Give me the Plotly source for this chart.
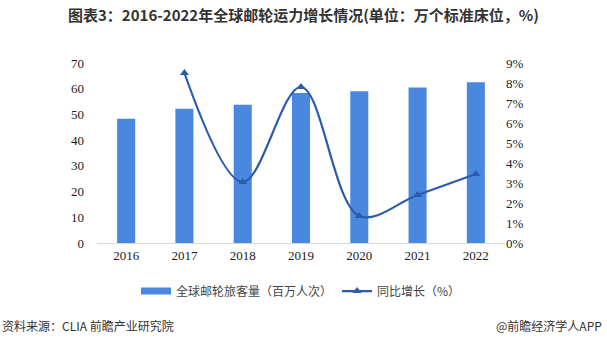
import plotly.graph_objects as go

years = ["2016", "2017", "2018", "2019", "2020", "2021", "2022"]
capacity = [48.3, 52.2, 53.8, 58.3, 59.0, 60.5, 62.5]
growth_years = ["2017", "2018", "2019", "2020", "2021", "2022"]
growth_pct = [8.5, 3.05, 7.8, 1.35, 2.4, 3.45]

bar_name = "全球邮轮旅客量（百万人次）"
line_name = "同比增长（%）"
title_text = "图表3：2016-2022年全球邮轮运力增长情况(单位：万个标准床位，%)"
source_text = "资料来源：CLIA 前瞻产业研究院"
brand_text = "@前瞻经济学人APP"

serif = "Liberation Serif, Times New Roman, serif"
sans = "Noto Sans CJK SC, sans-serif"
bar_color = "#4a88e0"
line_color = "#2b5cab"

fig = go.Figure()
fig.add_trace(go.Bar(
    x=years, y=capacity, name=bar_name,
    marker=dict(color=bar_color, line=dict(width=0)),
    yaxis="y", showlegend=False,
))
# legend key for the bars drawn as a wide flat swatch
fig.add_trace(go.Scatter(
    x=[None], y=[None], name=bar_name, mode="lines",
    line=dict(color=bar_color, width=7), yaxis="y",
))
fig.add_trace(go.Scatter(
    x=growth_years, y=[v / 100 for v in growth_pct], name=line_name,
    mode="lines+markers",
    line=dict(color=line_color, width=2.2, shape="spline", smoothing=1.0),
    marker=dict(symbol="triangle-up", size=8, color=line_color),
    yaxis="y2",
))

fig.update_layout(
    width=607, height=346,
    margin=dict(l=97, r=102, t=63, b=103),
    paper_bgcolor="white", plot_bgcolor="white",
    bargap=0.69,
    showlegend=True,
    legend=dict(
        orientation="h", x=0.5, xanchor="center", y=-0.267, yanchor="middle",
        font=dict(family=sans, size=12, color="#444"),
        itemwidth=30, tracegroupgap=0,
    ),
    xaxis=dict(
        type="category",
        showline=True, linecolor="#d9d9d9", linewidth=1,
        ticks="", showgrid=False,
        tickfont=dict(family=serif, size=13, color="#222"),
    ),
    yaxis=dict(
        range=[0, 70], dtick=10, showgrid=False, zeroline=False,
        tickfont=dict(family=serif, size=13, color="#222"),
        ticks="", showline=False, ticklabelstandoff=12,
    ),
    yaxis2=dict(
        overlaying="y", side="right",
        range=[0, 0.09], dtick=0.01, tickformat=".0%",
        showgrid=False, zeroline=False, ticks="", showline=False,
        tickfont=dict(family=serif, size=13, color="#222"),
    ),
    title=dict(
        text="<b>" + title_text + "</b>",
        x=0.5, xanchor="center", y=0.955, yanchor="middle",
        font=dict(family=sans, size=15, color="#333"),
    ),
    annotations=[
        dict(text=source_text, xref="paper", yref="paper",
             x=-97 / 408, y=-82 / 180, xanchor="left", yanchor="middle",
             showarrow=False, font=dict(family=sans, size=12, color="#333")),
        dict(text=brand_text, xref="paper", yref="paper",
             x=(604 - 97) / 408, y=-82 / 180, xanchor="right", yanchor="middle",
             showarrow=False, font=dict(family=sans, size=12, color="#333")),
    ],
)

fig.write_html("out.html")
